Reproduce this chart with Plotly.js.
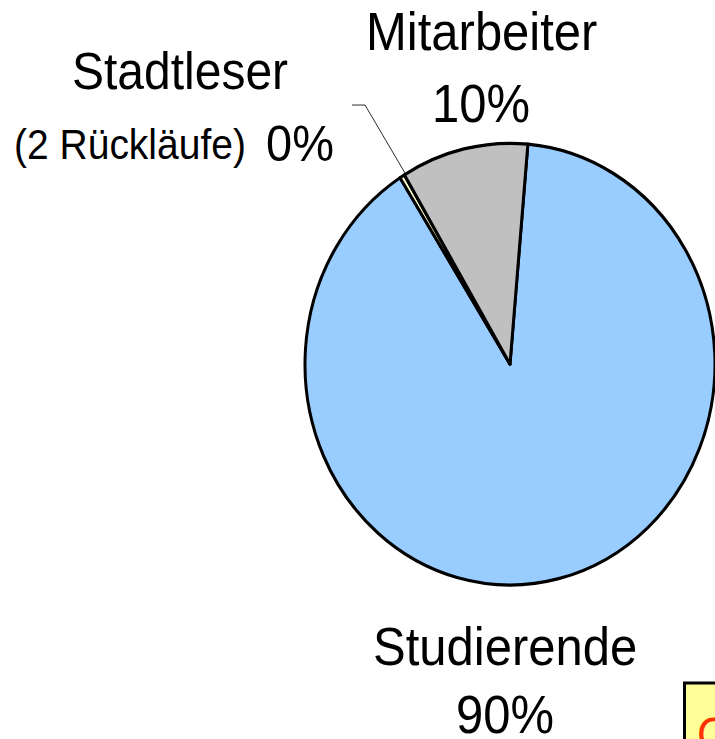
<!DOCTYPE html>
<html>
<head>
<meta charset="utf-8">
<script src="https://cdn.plot.ly/plotly-3.0.1.min.js"></script>
<style>
  html { margin: 0; padding: 0; background: #ffffff; overflow: hidden; }
  body { margin: 0; padding: 0; background: #ffffff; width: 715px; height: 739px; overflow: hidden; }
  #chart { width: 715px; height: 686px; transform: scaleY(1.0773); transform-origin: 0 0; }
</style>
</head>
<body>
<div id="chart"></div>
<script>
// Data (shares 89.6% / 0.4% / 10%)
const categories = ["Studierende", "Stadtleser", "Mitarbeiter"];
const values = [448, 2, 50];
const percentLabels = ["90%", "0%", "10%"];
const sliceColors = ["#99CCFF", "#FFFFCC", "#C0C0C0"];

const W = 715, H = 686;
const px = x => x / W;
const py = y => 1 - y / H;
const FONT = '"Liberation Sans", Arial, sans-serif';

const trace = {
  type: 'pie',
  labels: categories,
  values: values,
  sort: false,
  direction: 'clockwise',
  rotation: 5,
  textinfo: 'none',
  hoverinfo: 'skip',
  showlegend: false,
  marker: { colors: sliceColors, line: { color: '#000000', width: 3 } },
  domain: { x: [px(305), px(715)], y: [py(543), py(133)] }
};

function lab(text, x, baseline, size, anchor) {
  return {
    xref: 'paper', yref: 'paper',
    x: px(x), y: py(baseline - 0.3465 * size),
    xanchor: anchor || 'center', yanchor: 'middle',
    text: text, showarrow: false,
    font: { family: FONT, size: size, color: '#000000' }
  };
}

const annotations = [
  lab(categories[2], 481, 46.4, 49),
  lab(percentLabels[2], 481, 113.2, 49),
  lab(categories[1], 180, 83.5, 48),
  lab("(2 Rückläufe)", 130, 148.5, 39),
  lab(percentLabels[1], 300, 148.5, 47),
  lab(categories[0], 505, 617.3, 49),
  lab(percentLabels[0], 505, 679.5, 49),
  {
    xref: 'paper', yref: 'paper', x: px(695), y: py(681), xanchor: 'left', yanchor: 'middle',
    text: 'C', showarrow: false, font: { family: FONT, size: 44, color: '#FF3300' }
  }
];

const bx0 = px(684.5), bx1 = px(760), by0 = py(634), by1 = py(760);
const shapes = [
  { type: 'line', xref: 'paper', yref: 'paper', x0: px(352), y0: py(97.5), x1: px(365), y1: py(97.5),
    line: { color: '#000000', width: 0.8 } },
  { type: 'line', xref: 'paper', yref: 'paper', x0: px(365), y0: py(97.5), x1: px(405), y1: py(160.6),
    line: { color: '#000000', width: 0.8 } },
  { type: 'path', xref: 'paper', yref: 'paper',
    path: `M ${bx0},${by1} L ${bx0},${by0} L ${bx1},${by0}`,
    fillcolor: '#FFFF99', line: { color: '#000000', width: 3 }, layer: 'below' }
];

const layout = {
  width: W, height: H,
  margin: { l: 0, r: 0, t: 0, b: 0 },
  paper_bgcolor: '#ffffff',
  plot_bgcolor: '#ffffff',
  showlegend: false,
  annotations: annotations,
  shapes: shapes
};

Plotly.newPlot('chart', [trace], layout, { displayModeBar: false, staticPlot: true });
</script>
</body>
</html>
